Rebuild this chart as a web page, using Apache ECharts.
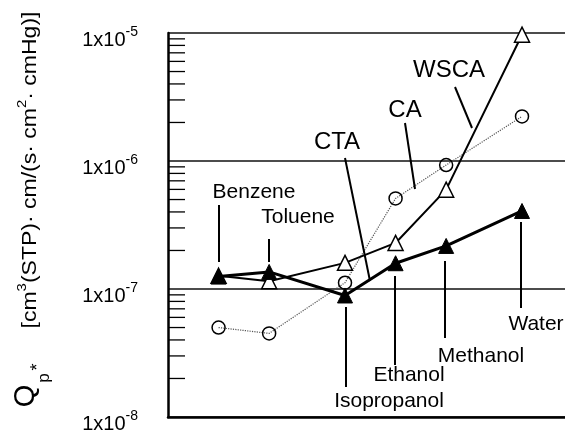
<!DOCTYPE html>
<html><head><meta charset="utf-8">
<script src="https://cdn.jsdelivr.net/npm/echarts@6/dist/echarts.min.js"></script>
<style>html,body{margin:0;padding:0;background:#fff}#c{width:565px;height:439px}</style>
</head><body><div id="c"></div>
<script>
// ---- data ----
const solvents = ['Benzene', 'Toluene', 'Isopropanol', 'Ethanol', 'Methanol', 'Water'];
const solventX = [2, 4, 7, 9, 11, 14];
const ctaValues  = [1.25e-7, 1.36e-7, 8.9e-8, 1.59e-7, 2.17e-7, 4.07e-7];
const wscaValues = [1.27e-7, 1.15e-7, 1.60e-7, 2.29e-7, 5.97e-7, 9.7e-6];
const caValues   = [5.0e-8, 4.5e-8, 1.12e-7, 5.1e-7, 9.3e-7, 2.23e-6];
const yDecades = [1e-8, 1e-7, 1e-6];
const minorMultipliers = [2, 3, 4, 5, 6, 7, 8, 9];

const minorTickValues = [];
yDecades.forEach(d => minorMultipliers.forEach(m => minorTickValues.push(m * d)));

const pairs = vals => solventX.map((x, i) => [x, vals[i]]);

const FONT = '"Liberation Sans", Arial, sans-serif';

// annotation layout (pixels)
const labelDefs = [
  { t: 'Benzene', x: 254, y: 192, s: 21 },
  { t: 'Toluene', x: 298, y: 217, s: 21 },
  { t: 'CTA', x: 337, y: 142, s: 24 },
  { t: 'CA', x: 405, y: 110, s: 24 },
  { t: 'WSCA', x: 449, y: 70, s: 24 },
  { t: 'Isopropanol', x: 389, y: 401, s: 21 },
  { t: 'Ethanol', x: 409, y: 375, s: 21 },
  { t: 'Methanol', x: 481, y: 356, s: 21 },
  { t: 'Water', x: 536, y: 324, s: 21 }
];
const leaderDefs = [
  [219, 205, 219, 262],
  [269, 239, 269, 262],
  [345, 158, 370, 281],
  [405, 123, 415, 189],
  [455, 87, 472, 128],
  [346, 307, 346, 387],
  [395, 276, 395, 365],
  [445, 261, 445, 338],
  [521, 222, 521, 308]
];

const graphics = [];
labelDefs.forEach(d => graphics.push({
  type: 'text', x: d.x, y: d.y, z: 100,
  style: { text: d.t, fontSize: d.s, fontFamily: FONT, fill: '#000', align: 'center', verticalAlign: 'middle' }
}));
leaderDefs.forEach(l => graphics.push({
  type: 'line', z: 100, shape: { x1: l[0], y1: l[1], x2: l[2], y2: l[3] },
  style: { stroke: '#000', lineWidth: 2 }
}));
// y-axis title (rotated)
graphics.push({
  type: 'text', x: 30, y: 170, rotation: Math.PI / 2, scaleX: 1.15, z: 100,
  style: {
    text: '[cm{sup|3}(STP)· cm/(s· cm{sup|2}· cmHg)]',
    fontSize: 20, fontFamily: FONT, fill: '#000', align: 'center', verticalAlign: 'middle',
    rich: { sup: { fontSize: 13, fontFamily: FONT, verticalAlign: 'top', lineHeight: 13 } },
    lineHeight: 28
  }
});
graphics.push({
  type: 'text', x: 26, y: 396, rotation: Math.PI / 2, z: 100,
  style: { text: 'Q', fontSize: 29, fontFamily: FONT, fill: '#000', align: 'center', verticalAlign: 'middle' }
});
graphics.push({
  type: 'text', x: 44, y: 378, rotation: Math.PI / 2, z: 100,
  style: { text: 'p', fontSize: 17, fontFamily: FONT, fill: '#000', align: 'center', verticalAlign: 'middle' }
});
graphics.push({
  type: 'text', x: 38, y: 367, rotation: Math.PI / 2, z: 100,
  style: { text: '*', fontSize: 18, fontFamily: FONT, fill: '#000', align: 'center', verticalAlign: 'middle' }
});

const chart = echarts.init(document.getElementById('c'), null, { renderer: 'canvas' });
chart.setOption({
  animation: false,
  backgroundColor: '#fff',
  grid: { left: 168, right: 0, top: 33, bottom: 17 },
  xAxis: {
    type: 'value', min: 0, max: 15.7,
    axisLine: { show: true, onZero: false, lineStyle: { color: '#000', width: 2.5 } },
    axisTick: { show: false }, axisLabel: { show: false }, splitLine: { show: false }
  },
  yAxis: {
    type: 'log', logBase: 10, min: 1e-8, max: 1e-5,
    axisLine: { show: true, lineStyle: { color: '#000', width: 2.5 } },
    axisTick: { show: false },
    splitLine: { show: true, lineStyle: { color: '#111', width: 1.5 } },
    axisLabel: {
      margin: 30, fontSize: 20, fontFamily: FONT, color: '#000',
      lineHeight: 30, padding: [14, 0, 0, 0],
      formatter: v => '{b|1x10}{sup|' + Math.round(Math.log10(v)) + '}',
      rich: {
        b: { fontSize: 20, fontFamily: FONT, color: '#000', lineHeight: 30 },
        sup: { fontSize: 14, fontFamily: FONT, color: '#000', verticalAlign: 'top', lineHeight: 14 }
      }
    }
  },
  graphic: graphics,
  series: [
    {
      type: 'custom', name: 'minorTicks', silent: true, clip: false,
      data: minorTickValues.map(v => [0, v]),
      renderItem: (params, api) => {
        const p = api.coord([api.value(0), api.value(1)]);
        return { type: 'line', shape: { x1: p[0], y1: p[1], x2: p[0] + 17, y2: p[1] }, style: { stroke: '#000', lineWidth: 1.3 } };
      }
    },
    {
      type: 'line', name: 'CA', data: pairs(caValues), z: 3,
      symbol: 'circle', symbolSize: 13,
      lineStyle: { color: '#555', width: 1.2, type: 'dotted' },
      itemStyle: { color: 'rgba(0,0,0,0)', borderColor: '#000', borderWidth: 1.5 }
    },
    {
      type: 'line', name: 'WSCA', data: pairs(wscaValues), z: 4,
      symbol: 'triangle', symbolSize: 15,
      lineStyle: { color: '#000', width: 2 },
      itemStyle: { color: '#fff', borderColor: '#000', borderWidth: 1.5 }
    },
    {
      type: 'line', name: 'CTA', data: pairs(ctaValues), z: 5,
      symbol: 'triangle', symbolSize: 15,
      lineStyle: { color: '#000', width: 3 },
      itemStyle: { color: '#000', borderColor: '#000', borderWidth: 1 }
    }
  ]
});
</script>
</body></html>
